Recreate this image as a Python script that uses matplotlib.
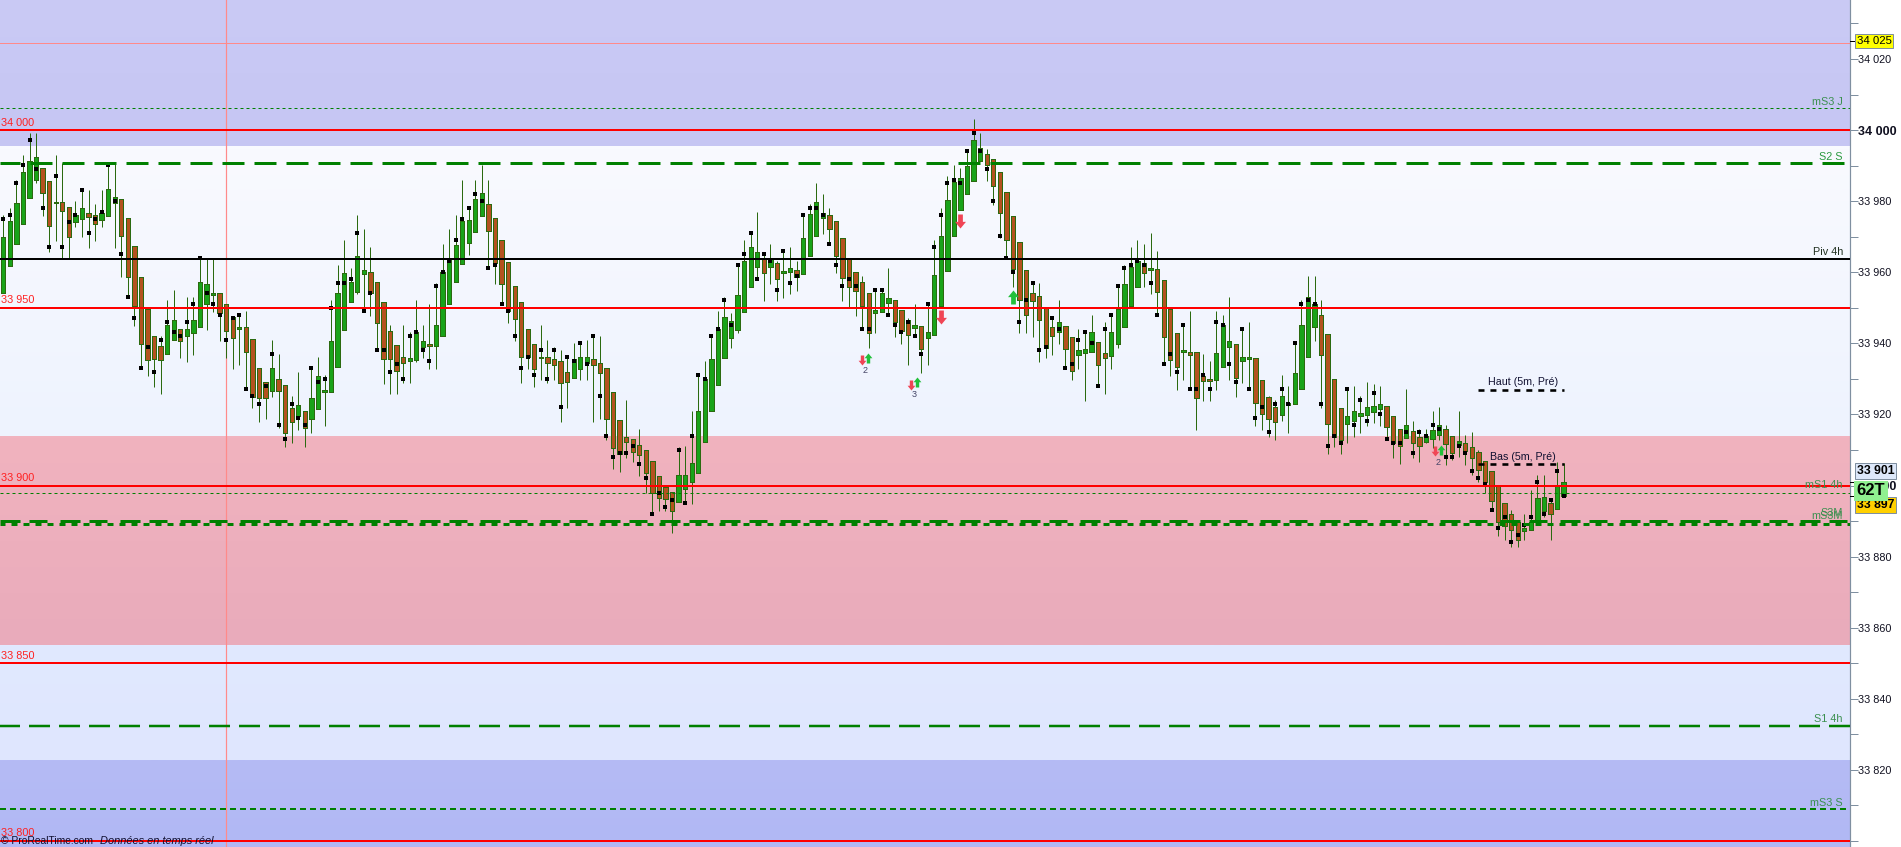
#Intraday candlestick chart with pivot levels (ProRealTime style)
import numpy as np
import matplotlib
matplotlib.use("Agg")
import matplotlib.pyplot as plt
from matplotlib.colors import LinearSegmentedColormap
from matplotlib.path import Path
from matplotlib.ticker import MultipleLocator, FuncFormatter

plt.rcParams['font.family'] = ['Liberation Sans', 'DejaVu Sans']

#all candle values are points above this price
BASE = 33800

#candle colour as runs: G up, R down
direction_runs = [("G",6),("R",2),("G",1),("R",2),("G",2),("R",2),("G",3),("R",7),("G",2),("R",1),
    ("G",5),("R",3),("G",1),("R",4),("G",1),("R",3),("G",1),("R",1),("G",9),("R",6),("G",3),("R",1),
    ("G",8),("R",8),("G",1),("R",4),("G",3),("R",13),("G",13),("R",1),("G",1),("R",1),("G",2),("R",1),
    ("G",4),("R",7),("G",3),("R",3),("G",1),("R",1),("G",9),("R",11),("G",1),("R",2),("G",3),("R",2),
    ("G",5),("R",1),("G",1),("R",4),("G",1),("R",4),("G",3),("R",1),("G",2),("R",4),("G",6),("R",4),
    ("G",6),("R",3),("G",1),("R",2),("G",3),("R",2),("G",1),("R",9),("G",4),("R",1),("G",2)]

body_top = [169.8,174.3,179.4,188.1,191.2,192.3,189.2,185.8,179.9,179.7,
    178.5,176.0,178.0,176.6,176.0,176.8,183.3,181.3,180.5,175.4,
    167.3,158.8,149.6,142.2,139.2,145.1,146.7,143.9,143.9,146.7,
    157.4,156.6,154.3,154.1,151.2,147.5,144.5,144.5,141.1,133.2,
    129.0,133.0,129.9,128.2,121.7,122.6,121.1,124.5,130.7,126.8,
    140.6,154.3,159.7,157.2,164.7,160.5,160.0,157.2,151.5,143.6,
    139.4,136.1,135.8,143.1,140.6,139.7,145.3,160.0,163.4,167.6,
    174.3,174.6,180.5,182.2,179.1,175.4,169.0,162.8,156.0,151.5,
    143.9,139.7,136.3,136.1,135.5,134.9,131.8,135.5,136.1,136.3,
    135.5,134.6,133.2,126.2,118.3,113.6,113.0,111.3,109.9,106.8,
    102.6,99.5,98.1,103.1,102.9,106.2,120.9,130.1,135.5,143.9,
    147.3,146.2,153.5,163.3,167.0,165.6,163.9,163.6,162.5,160.3,
    161.1,160.5,169.5,176.3,179.7,176.8,176.0,174.3,169.5,163.6,
    160.0,157.4,154.1,149.3,154.1,152.7,152.1,149.3,146.5,145.3,
    144.8,143.1,159.1,170.1,180.2,185.3,186.4,189.8,197.1,195.1,
    193.4,192.0,188.1,182.5,175.7,168.4,160.5,154.3,153.2,150.0,
    144.5,145.9,144.8,141.7,138.0,138.3,143.1,140.3,137.2,143.1,
    149.6,156.6,161.4,163.1,162.5,161.1,160.8,157.7,149.8,142.8,
    138.1,137.7,137.5,130.9,130.1,137.2,145.1,140.6,139.7,136.3,
    136.1,135.8,129.6,124.8,122.0,125.1,123.1,131.6,145.3,152.9,
    151.2,147.9,142.5,129.9,121.7,119.6,121.1,120.3,122.1,122.3,
    122.9,122.3,119.5,115.8,117.0,115.3,113.6,113.9,115.6,117.0,
    115.9,113.9,112.5,112.1,110.7,109.3,106.8,104.0,100.1,95.0,
    92.0,89.7,88.1,89.8,96.4,96.7,95.0,100.1,100.9]

body_bottom = [154.3,161.8,168.0,173.7,181.0,186.0,182.4,173.1,179.5,177.3,
    170.0,174.2,175.1,175.6,173.7,174.8,175.9,179.6,170.3,158.8,
    150.6,139.9,135.2,135.7,135.2,137.1,141.0,140.7,142.1,143.0,
    144.7,151.1,153.7,148.4,143.6,141.6,144.1,137.6,125.0,124.7,
    124.7,126.7,126.7,114.9,118.0,119.6,116.3,118.8,121.6,126.2,
    126.4,133.4,143.8,151.7,154.5,159.6,154.3,145.8,135.7,135.7,
    132.3,134.5,135.1,135.4,139.1,139.2,139.3,142.2,151.1,157.3,
    162.4,168.3,171.4,175.9,171.7,162.5,156.6,149.2,146.9,136.2,
    136.2,132.9,135.9,134.5,134.0,128.9,129.2,130.3,132.9,134.5,
    134.0,131.7,118.8,110.6,109.0,112.3,109.5,108.7,103.6,98.0,
    96.6,96.3,92.9,95.5,99.1,101.1,103.6,112.3,121.1,128.4,
    135.9,141.6,143.8,148.7,155.9,161.6,159.9,161.6,158.2,159.9,
    160.1,158.7,159.6,164.7,170.3,175.2,172.3,164.7,158.5,155.9,
    154.8,150.6,143.0,148.6,148.9,151.4,146.1,143.6,142.4,144.4,
    138.5,141.6,142.4,150.6,160.4,170.3,177.6,182.1,185.7,191.4,
    190.2,184.3,176.7,169.2,161.0,152.3,148.1,152.0,146.7,138.8,
    142.2,143.3,138.5,132.3,136.8,137.4,137.6,134.0,136.0,136.5,
    139.9,144.7,150.6,155.9,159.9,160.7,154.5,141.9,135.4,133.4,
    137.7,136.8,124.7,129.5,129.5,129.8,133.4,139.1,130.3,135.1,
    135.7,123.3,120.2,118.8,118.0,119.9,122.7,123.0,127.2,136.2,
    144.7,136.8,117.4,113.6,112.8,117.3,118.2,119.6,119.8,120.8,
    121.6,116.6,112.0,111.2,113.3,112.1,111.2,112.2,113.1,114.2,
    111.8,109.2,111.5,109.7,107.7,104.4,101.0,95.7,89.7,88.7,
    87.5,84.7,87.3,87.5,89.8,92.8,92.0,93.5,97.0]

highs = [176.1,178.0,185.9,193.0,199.1,199.1,189.2,185.8,193.0,190.6,
    178.5,180.0,183.1,183.1,179.2,183.1,190.6,190.6,180.5,175.4,
    167.3,158.8,149.6,142.2,142.0,152.2,155.0,143.9,153.0,153.0,
    164.4,163.6,163.6,154.1,151.2,147.5,148.4,149.1,141.1,133.2,
    129.0,140.9,137.0,128.2,125.2,131.9,121.1,133.1,136.1,131.1,
    152.2,162.0,169.1,161.1,176.1,172.1,167.1,157.2,151.5,145.1,
    139.4,145.1,143.1,152.2,145.1,151.1,156.9,167.9,172.1,176.1,
    185.9,178.1,185.9,190.2,185.9,175.4,169.0,162.8,156.0,151.5,
    143.9,139.7,145.1,140.9,138.9,138.1,136.7,140.0,140.5,140.9,
    142.0,142.0,133.2,126.2,118.3,124.1,113.0,115.8,109.9,106.8,
    102.6,99.9,98.1,110.9,111.1,121.0,131.1,135.0,142.0,149.1,
    152.9,148.4,162.0,169.1,171.0,176.9,165.1,167.9,163.2,166.0,
    167.1,163.2,176.1,179.2,185.0,182.0,178.0,174.3,169.5,163.6,
    160.0,158.9,154.1,155.0,155.0,161.2,152.1,149.3,147.0,151.1,
    144.8,151.7,169.1,178.0,187.1,190.2,189.2,194.4,203.1,199.2,
    194.8,192.0,188.1,182.5,175.7,168.4,160.5,157.0,157.0,150.0,
    147.5,152.2,144.8,141.7,144.0,143.7,148.0,140.3,146.0,148.0,
    156.1,162.0,167.1,169.1,167.9,171.0,166.0,157.7,149.8,142.8,
    145.6,149.1,137.5,137.0,135.0,149.1,148.0,153.0,139.7,144.0,
    146.0,135.8,129.6,125.2,124.1,131.1,128.0,140.1,152.2,158.9,
    158.9,152.2,142.5,129.9,121.7,127.8,128.0,125.2,129.0,128.6,
    128.0,122.3,119.5,115.8,127.2,118.1,115.8,115.9,120.9,122.1,
    117.0,113.9,120.9,114.2,115.0,110.0,106.8,104.0,100.1,95.0,
    93.1,89.7,92.0,98.7,103.0,103.0,96.4,106.7,106.2]

lows = [154.3,161.8,168.0,173.7,181.0,185.0,175.9,165.8,168.9,163.9,
    163.9,172.8,170.0,166.9,168.9,172.8,175.9,166.9,158.7,153.1,
    145.0,133.1,130.9,127.8,125.8,137.1,141.0,135.9,134.8,136.8,
    144.7,143.7,148.9,140.6,135.9,132.9,133.9,127.2,121.9,118.0,
    118.8,125.0,116.1,110.9,111.9,115.6,110.9,114.9,121.6,116.8,
    126.4,133.4,143.8,151.7,154.0,149.4,147.8,138.1,128.7,125.8,
    125.8,128.9,128.9,134.8,135.9,132.9,132.9,142.2,151.1,157.3,
    162.4,164.8,171.4,175.9,161.2,156.7,151.1,145.8,140.7,128.8,
    132.9,127.8,129.7,128.9,129.7,118.0,121.9,130.3,129.7,129.7,
    118.0,118.7,112.8,104.7,103.9,107.8,106.7,102.8,97.8,92.2,
    92.9,92.9,86.7,95.5,95.1,94.8,103.6,112.3,121.1,128.4,
    135.9,138.8,143.0,148.7,155.9,158.1,151.9,156.7,151.9,152.7,
    153.9,154.7,159.6,164.7,170.3,170.7,167.9,159.8,151.9,150.1,
    147.7,144.0,138.7,143.0,148.9,148.0,141.9,139.8,133.9,142.0,
    131.7,133.9,142.4,150.6,160.4,170.3,177.6,182.1,185.7,191.4,
    185.7,178.9,169.5,163.9,155.9,143.0,143.0,141.9,134.8,135.9,
    136.8,139.8,133.1,129.7,132.8,123.8,137.6,128.0,125.7,132.8,
    138.8,144.7,150.6,155.9,155.8,153.9,148.0,134.2,130.8,126.9,
    129.7,127.2,115.6,123.8,123.8,126.9,133.4,129.7,124.9,128.8,
    127.2,116.7,115.6,113.7,112.8,118.2,114.8,123.0,127.2,136.2,
    140.6,121.8,109.0,110.9,108.9,111.9,113.6,114.9,116.7,117.5,
    116.7,113.3,107.8,106.0,113.3,107.8,106.7,111.9,110.5,112.8,
    105.8,107.2,108.1,105.8,103.0,101.1,97.8,93.1,85.8,84.7,
    82.8,82.8,84.7,87.5,89.8,91.2,84.7,93.5,97.0]

#black square indicator, one per candle
dots = [175.0,176.1,185.1,190.2,197.2,189.0,178.1,167.1,187.1,167.1,
    174.1,176.1,183.1,171.0,175.0,176.9,190.2,180.0,165.1,153.0,
    147.1,133.1,139.0,131.9,140.9,146.0,143.2,142.0,146.0,151.1,
    164.0,154.2,151.1,148.0,140.9,147.1,148.0,127.2,125.2,122.9,
    128.0,137.0,117.0,113.1,122.9,119.0,117.0,133.1,129.1,130.0,
    149.9,157.0,157.0,158.1,171.0,149.1,154.2,138.1,138.1,131.9,
    134.2,130.0,142.0,143.2,138.1,135.0,156.1,160.0,163.2,169.1,
    175.0,178.1,182.0,180.0,161.2,162.0,151.1,149.1,142.0,133.1,
    136.1,131.1,138.1,130.0,138.1,122.1,136.1,135.0,140.1,134.2,
    142.0,125.2,113.9,108.0,109.1,109.1,111.1,106.1,102.1,92.0,
    97.9,93.9,95.9,110.0,95.1,113.9,131.1,130.0,142.0,144.0,
    152.2,145.1,162.0,165.1,171.0,158.1,165.1,163.2,155.0,166.0,
    157.0,158.9,176.1,178.1,178.1,176.1,167.9,162.0,156.1,158.1,
    156.1,144.0,144.0,155.0,155.0,148.0,145.1,143.2,146.0,142.0,
    137.0,151.1,167.1,176.1,185.1,185.9,185.2,194.1,199.2,194.1,
    189.0,180.0,170.2,164.0,160.1,146.0,152.2,157.0,138.1,139.0,
    147.1,144.0,133.1,134.2,140.9,143.2,140.1,128.0,144.0,148.0,
    156.1,161.2,162.0,163.2,162.0,157.0,148.0,134.2,137.0,131.9,
    145.1,127.2,127.2,131.1,127.2,146.0,145.1,134.2,129.1,144.0,
    127.2,119.0,122.1,115.0,122.9,127.2,122.9,140.1,151.1,152.2,
    151.1,122.9,111.1,113.9,112.0,127.2,117.0,124.1,118.1,126.1,
    120.2,113.1,112.0,112.0,115.0,109.1,115.0,113.9,117.0,115.9,
    108.0,108.0,111.1,109.1,104.1,102.1,100.3,93.1,88.1,91.1,
    84.1,86.1,88.9,91.1,101.0,92.0,95.9,104.1,97.0]

#round number levels
round_levels = [34000, 33950, 33900, 33850, 33800]
round_labels = ["34 000", "33 950", "33 900", "33 850", "33 800"]

#pivot levels
s2_s = 33990.6
piv_4h = 33963.7
s1_4h = 33832.4
ms3_j = 34006.1
ms1_4h = 33897.8
ms3_s = 33809.0
s3m = 33890.1
ms3m = 33889.2
haut_5m = 33927.0
bas_5m = 33906.0
crosshair_price = 34024.6
crosshair_bar = 34.0

#last prices marked on the scale
scale_marks = [34025, 33901, 33897]

#background zones: top price, bottom price, top colour, bottom colour
zone_edges = [34036.6, 33995.2, 33913.8, 33854.9, 33822.5, 33798.3]
zone_colors = [("#CACAF5", "#C6C6F3"), ("#F9FAFF", "#EEF3FE"), ("#F1B3BF", "#E9ABBB"),
               ("#E1E9FF", "#DFE6FE"), ("#B5BBF5", "#B1B8F4")]

#signal arrows: bar, price
big_down = [(143.0, 33947.5), (146.0, 33974.5)]
big_up = [(154.0, 33952.9)]
small_down = [(131.0, 33935.4), (138.5, 33928.4), (218.4, 33909.6)]
small_up = [(131.9, 33936.0), (139.4, 33929.0), (219.3, 33910.1)]
signal_counts = [(131.5, 33932.5, "2"), (139.0, 33925.5, "3"), (218.8, 33906.6, "2")]

W, H, PLOT_W = 1901, 847, 1850
px = 72 / 100  #one pixel in points at dpi 100
BAR_STEP = 6.556

fig = plt.figure(figsize=(W / 100, H / 100), dpi=100, facecolor="white")
ax = fig.add_axes([0, 0, PLOT_W / W, 1])

xmin = -3.3 / BAR_STEP
xmax = (PLOT_W - 3.3) / BAR_STEP

#background
for i, (c1, c2) in enumerate(zone_colors):
    cmap = LinearSegmentedColormap.from_list("zone", [c1, c2])
    ax.imshow(np.linspace(0, 1, 64).reshape(-1, 1), cmap=cmap, aspect="auto", zorder=0,
              extent=[xmin, xmax, zone_edges[i + 1], zone_edges[i]], interpolation="bilinear")

#candles
direction = "".join(d * n for d, n in direction_runs)
x = np.arange(len(body_top))
top = BASE + np.array(body_top)
bottom = BASE + np.array(body_bottom)
body_colors = ["#19A319" if d == "G" else "#B4521F" for d in direction]
ax.vlines(x, BASE + np.array(lows), BASE + np.array(highs), color="#2B6A10", lw=1 * px, zorder=3)
ax.bar(x, top - bottom, bottom=bottom, width=0.66, color=body_colors, edgecolor="#2B6A10",
       linewidth=1 * px, zorder=3.5, antialiased=False)
ax.plot(x, BASE + np.array(dots), ls="none", marker="s", ms=4 * px, mew=0, color="black", zorder=4)

#level lines
for level in round_levels:
    ax.axhline(level, color="#FF0000", lw=2 * px, zorder=6)
ax.axhline(piv_4h, color="black", lw=2 * px, zorder=6)


def dashed(price, width, pattern, offset=0, color="#008000"):
    #pattern and offset in pixels, matplotlib scales dashes by the line width
    seq = tuple(p / width for p in pattern)
    ax.axhline(price, color=color, lw=width * px, ls=(offset / width, seq),
               dash_capstyle="butt", zorder=5)


dashed(s2_s, 3, (22, 10), 2)
dashed(s1_4h, 2.5, (21, 9), 1)
dashed(s3m, 3, (20, 9, 18, 13))
dashed(ms3m, 3, (6, 6), 1)
dashed(ms3_j, 1, (3, 3))
dashed(ms1_4h, 1, (3, 3))
dashed(ms3_s, 2, (6, 4))

#crosshair
ax.axhline(crosshair_price, color="#FF8A8A", lw=1 * px, zorder=2)
ax.axvline(crosshair_bar, color="#FF8A8A", lw=1.2 * px, zorder=2)

#previous 5 minute high and low
for price, name in [(haut_5m, "Haut (5m, Pré)"), (bas_5m, "Bas (5m, Pré)")]:
    ax.plot([225, 238], [price, price], color="black", lw=2.6 * px, dashes=(2.3, 2.3), zorder=6)
    ax.text(231.8, price + 0.6, name, ha="center", va="bottom", fontsize=7.7, color="#101030", zorder=7)


#signal arrows
def arrow_marker(up):
    verts = [(-0.34, -1), (0.34, -1), (0.34, 0.05), (0.78, 0.05), (0, 1), (-0.78, 0.05), (-0.34, 0.05), (-0.34, -1)]
    if not up:
        verts = [(a, -b) for a, b in verts]
    return Path(verts, closed=True)


for pts, up, size, color in [(big_down, False, 14, "#F04555"), (big_up, True, 14, "#22C03A"),
                             (small_down, False, 10, "#F04555"), (small_up, True, 10, "#22C03A")]:
    ax.plot([p[0] for p in pts], [p[1] for p in pts], ls="none", marker=arrow_marker(up),
            ms=size * px, mew=0, color=color, zorder=8)
for bar, price, count in signal_counts:
    ax.text(bar, price, count, ha="center", va="center", fontsize=6.5, color="#444466", zorder=8)

ax.set_xlim(xmin, xmax)
ax.set_ylim(zone_edges[-1], zone_edges[0])
ax.set_xticks([])

#price scale on the right, the label at the very bottom is off the picture in the reference
ax.yaxis.tick_right()
ax.yaxis.set_major_locator(MultipleLocator(20))
ax.yaxis.set_minor_locator(MultipleLocator(10))
ax.yaxis.set_major_formatter(FuncFormatter(lambda v, p: "" if v < 33810 else f"{int(v):,}".replace(",", " ")))
ax.tick_params(axis="y", which="both", length=5.5, width=1 * px, color="#7F8FA0", pad=0, labelsize=7.8, labelcolor="#101020")
for label, tick in zip(ax.get_yticklabels(), ax.get_yticks()):
    if tick % 100 == 0:
        label.set_fontweight("bold")
        label.set_fontsize(9)
for name in ["top", "left", "bottom"]:
    ax.spines[name].set_visible(False)
ax.spines["right"].set_color("#7F8FA0")
ax.spines["right"].set_linewidth(1.2 * px)

#labels of the round levels, left side
for level, label in zip(round_levels, round_labels):
    ax.text(0.0007, level + 0.7, label, transform=ax.get_yaxis_transform(), color="#FF2020",
            fontsize=7.8, va="bottom", ha="left", zorder=9)

#labels of the pivot levels, right side
green_text = "#3C9050"
for price, label, color, off in [(ms3_j, "mS3 J", green_text, 0.4), (s2_s, "S2 S", "#2A9A40", 0.4),
                                 (piv_4h, "Piv 4h", "#203020", 0.7), (ms1_4h, "mS1 4h", green_text, 1.0),
                                 (ms3m, "mS3M", green_text, 0.7), (s3m, "S3M", green_text, 0.8),
                                 (s1_4h, "S1 4h", green_text, 0.4), (ms3_s, "mS3 S", green_text, 0.4)]:
    ax.text(0.9962, price + off, label, transform=ax.get_yaxis_transform(), color=color,
            fontsize=7.8, va="bottom", ha="right", zorder=9)

#ticks of the last prices
for mark in scale_marks:
    ax.plot([1.0, 1.0025], [mark, mark], transform=ax.get_yaxis_transform(), color="black",
            lw=1 * px, clip_on=False, zorder=9)

#price boxes
for price, label, face, weight, size, pad in [(34025.0, "34 025", "#FFFF00", "normal", 8.2, 0.16),
                                              (33904.1, "33 901", "#DDE8FA", "bold", 8.8, 0.16),
                                              (33894.4, "33 897", "#FFD000", "bold", 8.8, 0.16),
                                              (33898.6, "62T", "#90F090", "bold", 12, 0.14)]:
    ax.text(1.0036, price, label, transform=ax.get_yaxis_transform(), color="black", fontsize=size,
            fontweight=weight, va="center", ha="left", clip_on=False, zorder=10,
            bbox=dict(boxstyle=f"square,pad={pad}", fc=face, ec="#7F8FA0" if label != "62T" else face, lw=1 * px))

#copyright line
ax.text(0.0007, 0.0075, "© ProRealTime.com", transform=ax.transAxes, fontsize=7.4, color="#101030",
        va="center", ha="left", zorder=9)
ax.text(0.0541, 0.0075, "Données en temps réel", transform=ax.transAxes, fontsize=7.9, style="italic",
        color="#101030", va="center", ha="left", zorder=9)

plt.savefig("out.png", dpi=100)
